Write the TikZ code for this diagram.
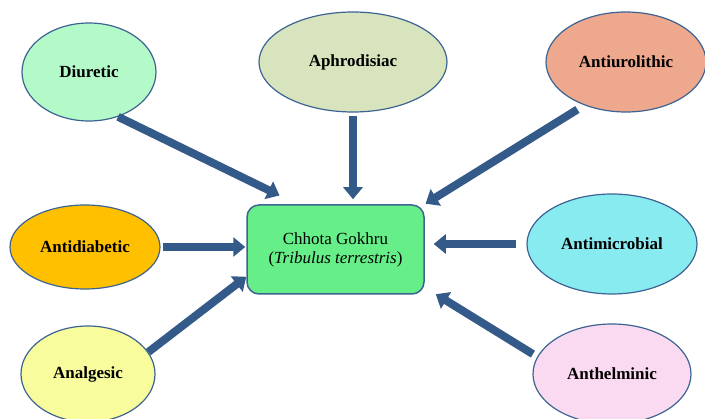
\documentclass[tikz,border=0pt]{standalone}
\usepackage{fontspec}
\setmainfont{Liberation Serif}
\usetikzlibrary{arrows.meta,shapes.geometric}
\definecolor{edgeblue}{HTML}{3D6393}
\definecolor{arrowblue}{HTML}{335A88}
\definecolor{herbgreen}{HTML}{66EE88}
\definecolor{diucol}{HTML}{B4F9C8}
\definecolor{aphcol}{HTML}{D7E4BD}
\definecolor{aurocol}{HTML}{EDA88D}
\definecolor{adiacol}{HTML}{FFC000}
\definecolor{analcol}{HTML}{F8FC9C}
\definecolor{amiccol}{HTML}{88EBF0}
\definecolor{anthcol}{HTML}{FADAF0}
\tikzset{
  % Base style
  diagram base/.style={
    x=1pt, y=-1pt,
    every node/.style={font=\fontsize{17}{19}\selectfont},
  },
  % Activity ellipses
  effect node/.style={ellipse, draw=edgeblue, line width=1.2pt, inner sep=0pt, font=\bfseries\fontsize{17}{19}\selectfont},
  % Plant box
  herb node/.style={rectangle, draw=edgeblue, line width=1.5pt, rounded corners=12pt, fill=herbgreen,
    minimum width=177pt, minimum height=89pt, align=center},
  % Arrows
  link arrow/.style={draw=arrowblue, line width=8pt, -{Triangle[length=12pt,width=19pt]}},
}

\begin{document}
\begin{tikzpicture}[diagram base]
\useasboundingbox (0,0) rectangle (705,419);

% Central node
\node[herb node] (herb) at (335.5,249.5) {Chhota Gokhru\\(\textit{Tribulus terrestris})};

% Upper row
\node[effect node, fill=diucol, minimum width=134pt, minimum height=98pt] (diu) at (89,72) {Diuretic};
\node[effect node, fill=aphcol, minimum width=188pt, minimum height=100pt] (aph) at (353,62) {Aphrodisiac};
\node[effect node, fill=aurocol, minimum width=160pt, minimum height=100pt] (auro) at (626,62) {Antiurolithic};

% Middle row
\node[effect node, fill=adiacol, minimum width=150pt, minimum height=84pt] (adia) at (85,247) {Antidiabetic};
\node[effect node, fill=amiccol, minimum width=170pt, minimum height=100pt] (amic) at (612,244) {Antimicrobial};

% Lower row
\node[effect node, fill=analcol, minimum width=134pt, minimum height=96pt] (anal) at (88,374) {Analgesic};
\node[effect node, fill=anthcol, minimum width=158pt, minimum height=100pt] (anth) at (612,374) {Anthelminic};

% Edges
\draw[link arrow, shorten >=20pt] (diu.-57.5) -- (herb.130);
\draw[link arrow, shorten <=3pt, shorten >=5pt] (aph.south) -- (aph.south |- herb.north);
\draw[link arrow, shorten <=8pt, shorten >=1pt] (auro.-134) -- (herb.north east);
\draw[link arrow, shorten <=2pt, shorten >=1pt] (adia.east) -- (adia.east -| herb.west);
\draw[link arrow] (anal.20) -- (herb.-163);
\draw[link arrow, shorten <=10pt, shorten >=9pt] (amic.west) -- (amic.west -| herb.east);
\draw[link arrow, shorten <=5pt, shorten >=13pt] (anth.167) -- (herb.-23.5);
\end{tikzpicture}
\end{document}
